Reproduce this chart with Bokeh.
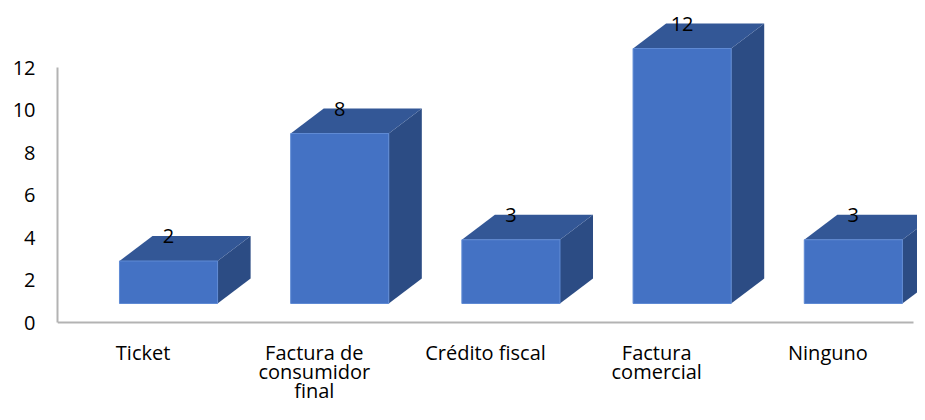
import numpy as np
from bokeh.plotting import figure
from bokeh.models import Range1d, FixedTicker, ColumnDataSource
from bokeh.embed import file_html
from bokeh.resources import INLINE
from bokeh.core.properties import value

# ---- data ----
categories = ["Ticket", "Factura de consumidor final", "Crédito fiscal",
              "Factura comercial", "Ninguno"]
tick_label_lines = [["Ticket"], ["Factura de", "consumidor", "final"],
                    ["Crédito fiscal"], ["Factura", "comercial"], ["Ninguno"]]
counts = [2, 8, 3, 12, 3]
y_ticks = [0, 2, 4, 6, 8, 10, 12]

# ---- pseudo-3D geometry (data units) ----
FLOOR = 0.894     # front face baseline above the axis
DX = 0.193        # depth offset in x (category units)
DY = 1.176        # depth offset in y (value units)
BAR_L = 0.362     # front face left, relative to category start
BAR_R = 0.935     # front face right, relative to category start

FRONT = "#4472C4"
TOP = "#335796"
SIDE = "#2C4C84"
FONT = "Open Sans"

UNIT_X = 171.2
UNIT_Y = 21.25
W, H = 917, 404
LEFT, TOPB = 57, 0
frame_w = W - LEFT
zero_px = 322  # pixel row of value 0
LINE0_PX = 30   # first label baseline below axis (px)
LINE_STEP_PX = 19

n = len(categories)
idx = np.arange(n)
x0 = idx + BAR_L
x1 = idx + BAR_R
v = np.array(counts, dtype=float)
yb = np.full(n, FLOOR)
yt = FLOOR + v

front = ColumnDataSource(dict(left=x0, right=x1, bottom=yb, top=yt))
top_src = ColumnDataSource(dict(
    xs=[[a, b, b + DX, a + DX] for a, b in zip(x0, x1)],
    ys=[[t, t, t + DY, t + DY] for t in yt]))
side_src = ColumnDataSource(dict(
    xs=[[b, b + DX, b + DX, b] for b in x1],
    ys=[[lo, lo + DY, t + DY, t] for lo, t in zip(yb, yt)]))
lab_src = ColumnDataSource(dict(x=(x0 + x1) / 2, y=yt + DY,
                                t=[str(c) for c in counts]))

cx, cy, ct = [], [], []
for i, lines in enumerate(tick_label_lines):
    for j, line in enumerate(lines):
        cx.append(i + 0.5)
        cy.append(-(LINE0_PX + j * LINE_STEP_PX) / UNIT_Y)
        ct.append(line)
cat_src = ColumnDataSource(dict(x=cx, y=cy, t=ct))

p = figure(width=W, height=H, output_backend="svg", toolbar_location=None,
           x_range=Range1d(0, frame_w / UNIT_X),
           y_range=Range1d(-(H - zero_px) / UNIT_Y, (zero_px - TOPB) / UNIT_Y),
           min_border_left=LEFT, min_border_right=0, min_border_top=TOPB,
           min_border_bottom=0)
p.outline_line_color = None
p.xgrid.visible = False
p.ygrid.visible = False
p.background_fill_color = "white"
p.border_fill_color = "white"

p.patches("xs", "ys", source=side_src, fill_color=SIDE, line_color=None)
p.patches("xs", "ys", source=top_src, fill_color=TOP, line_color=None)
p.quad(left="left", right="right", bottom="bottom", top="top", source=front,
       fill_color=FRONT, line_color="#5F8AD4", line_width=1)

p.text(x="x", y="y", text="t", source=lab_src, text_align="center",
       text_baseline="middle", text_font=value(FONT), text_font_size="20px",
       text_color="black")

p.text(x="x", y="y", text="t", source=cat_src, text_align="center",
       text_baseline="alphabetic", text_font=value(FONT),
       text_font_size="20px", text_color="black")

AX_COLOR = "#B3B3B3"
ya = p.yaxis[0]
ya.ticker = FixedTicker(ticks=y_ticks)
ya.bounds = (0, 12)
ya.axis_line_color = AX_COLOR
ya.axis_line_width = 2
ya.major_tick_line_color = None
ya.minor_tick_line_color = None
ya.major_tick_out = 0
ya.major_tick_in = 0
ya.minor_tick_out = 0
ya.major_label_standoff = 22
ya.major_label_text_font = FONT
ya.major_label_text_font_size = "20px"
ya.major_label_text_color = "black"

xa = p.xaxis[0]
xa.fixed_location = 0
xa.ticker = FixedTicker(ticks=[])
xa.bounds = (0, n)
xa.axis_line_color = AX_COLOR
xa.axis_line_width = 2
xa.major_tick_line_color = None
xa.minor_tick_line_color = None
xa.major_tick_out = 0
xa.major_tick_in = 0
xa.minor_tick_out = 0

open("out.html", "w").write(file_html(p, INLINE))
